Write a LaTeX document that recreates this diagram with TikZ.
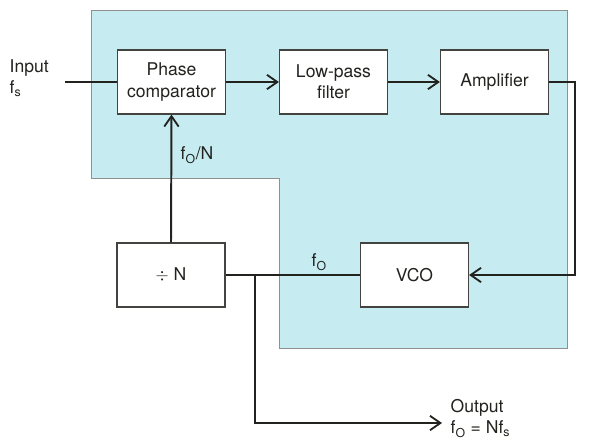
\documentclass[tikz,border=0pt]{standalone}
\usepackage{fontspec}
\setmainfont{TeX Gyre Heros}
\usetikzlibrary{arrows.meta,positioning}
\definecolor{loopblue}{RGB}{198,236,242}
\definecolor{ink}{RGB}{34,34,30}

\begin{document}
\begin{tikzpicture}[
  x=0.025cm, y=-0.025cm,
  >={Straight Barb[length=2.6mm,width=3.6mm,line width=1.3pt]},
  font=\fontsize{12.5}{15}\selectfont,
  text=ink,
  blk/.style={draw=ink!85,line width=0.8pt,fill=white,align=center,
              minimum width=2.7cm,minimum height=1.6cm,inner sep=2pt},
  sig/.style={draw=ink,line width=1.4pt},
  lbl/.style={inner sep=1pt,align=left},
]
\useasboundingbox (0,0) rectangle (596,442);

% ---------- shaded loop region ----------
\filldraw[fill=loopblue,draw=ink!50,line width=0.5pt]
  (91,10) -- (567,10) -- (567,348) -- (279,348) -- (279,178) -- (91,178) -- cycle;

% ---------- blocks ----------
\node[blk] (pc)  at (171.5,82)  {Phase\\comparator};
\node[blk] (lpf) at (333.5,82)  {Low-pass\\filter};
\node[blk] (amp) at (494.5,82)  {Amplifier};
\node[blk] (vco) at (414.5,275) {VCO};
\node[blk] (div) at (171,275)   {$\div$ N};

\coordinate (in)   at (65,82);
\coordinate (rc)   at (575,275);
\coordinate (tap)  at (255,275);
\coordinate (bot)  at (255,423);
\coordinate (out)  at (442,423);

% ---------- forward path ----------
\draw[sig] (in) -- (pc.west);
\draw[sig,->] (pc.east) -- (lpf.west);
\draw[sig,->] (lpf.east) -- (amp.west);
\draw[sig,->] (amp.east) -| (rc) -- (vco.east);

% ---------- feedback path ----------
\draw[sig] (vco.west) -- (div.east);
\draw[sig,->] (div.north) -- (pc.south);
\draw[sig,->] (tap) -- (bot) -- (out);

% ---------- labels ----------
\node[lbl,anchor=north west] (inlbl) at (8,58) {Input\\f\textsubscript{s}};
\node[lbl,anchor=west] (fb) at (179,155) {f\textsubscript{O}/N};
\node[lbl,anchor=west] (fo) at (310,262) {f\textsubscript{O}};
\node[lbl,anchor=north west] (outlbl) at (449,398) {Output\\f\textsubscript{O} = Nf\textsubscript{s}};

\end{tikzpicture}
\end{document}
